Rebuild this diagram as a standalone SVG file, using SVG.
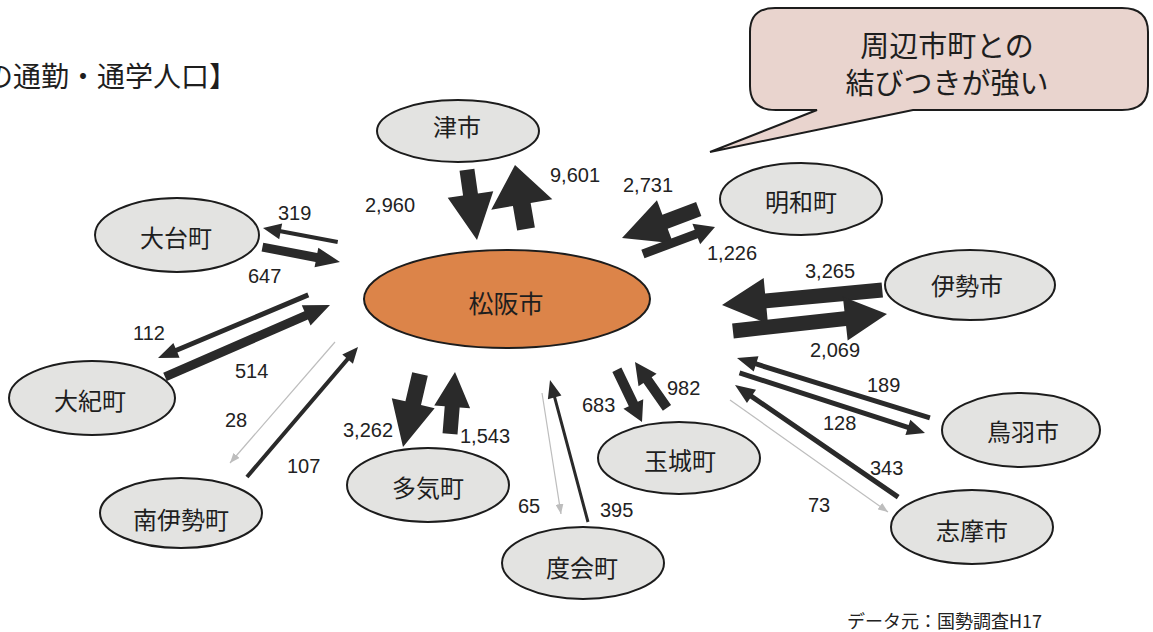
<svg xmlns="http://www.w3.org/2000/svg" width="1153" height="632" viewBox="0 0 1153 632">
<style>
.node ellipse{fill:#e3e3e1;stroke:#1c1c1c;stroke-width:2}
.node text{font-family:"Noto Sans CJK JP","Noto Sans",sans-serif;font-size:24px;fill:#1e1e1e;text-anchor:middle}
.blk{fill:#2a2a2a}
.gry{stroke:#bdbdbd;stroke-width:1.2;fill:none}
.num{font-family:"Liberation Sans",Arial,sans-serif;font-size:20px;fill:#222}
.title{font-family:"Noto Sans CJK JP",sans-serif;font-size:28px;fill:#1e1e1e}
.call{font-family:"Noto Sans CJK JP",sans-serif;font-size:29px;fill:#1e1e1e;text-anchor:middle}
.src{font-family:"Noto Sans CJK JP",sans-serif;font-size:18px;fill:#222}
</style>
<defs>
<marker id="gh" markerUnits="userSpaceOnUse" markerWidth="10" markerHeight="8" refX="10" refY="4" orient="auto">
<path d="M0,0L10,4L0,8Z" fill="#bdbdbd"/>
</marker>
</defs>
<rect width="1153" height="632" fill="#ffffff"/>
<text class="title" x="-15" y="87">の通勤・通学人口】</text>

<g id="callout">
<path d="M775,8 H1122 Q1148,8 1148,32 V86 Q1148,110 1122,110 H913 L710,152 L817,110 H776 Q750,110 750,86 V32 Q750,8 775,8 Z" fill="#e9d4ce" stroke="#1c1c1c" stroke-width="2"/>
<text class="call" x="947" y="57">周辺市町との</text>
<text class="call" x="947" y="94">結びつきが強い</text>
</g>

<g id="connectors">
<path class="blk" transform="translate(477,240) rotate(81.87)" d="M-71,-7.5H-46V-23L0,0L-46,23V7.5H-71Z"/>
<path class="blk" transform="translate(515,165) rotate(-99.75)" d="M-65,-9H-40V-31L0,0L-40,31V9H-65Z"/>
<path class="blk" transform="translate(622,238) rotate(159.36)" d="M-82,-7.5H-46V-23L0,0L-46,23V7.5H-82Z"/>
<path class="blk" transform="translate(715,227) rotate(-20.56)" d="M-77,-4.5H-20V-11L0,0L-20,11V4.5H-77Z"/>
<path class="blk" transform="translate(722,305) rotate(174.64)" d="M-161,-7.5H-44V-23L0,0L-44,23V7.5H-161Z"/>
<path class="blk" transform="translate(887,314) rotate(-6.3)" d="M-155,-7.5H-42V-22L0,0L-42,22V7.5H-155Z"/>
<path class="blk" transform="translate(263,228) rotate(-169.43)" d="M-76,-2H-18V-8L0,0L-18,8V2H-76Z"/>
<path class="blk" transform="translate(340,262) rotate(10.89)" d="M-79,-4.5H-24V-10L0,0L-24,10V4.5H-79Z"/>
<path class="blk" transform="translate(158,358) rotate(157.22)" d="M-163,-2.5H-20V-8L0,0L-20,8V2.5H-163Z"/>
<path class="blk" transform="translate(330,305) rotate(-23.57)" d="M-180,-4.5H-26V-11L0,0L-26,11V4.5H-180Z"/>
<line class="gry" x1="335" y1="342" x2="230" y2="463" marker-end="url(#gh)"/>
<path class="blk" transform="translate(358,347) rotate(-49.5)" d="M-171,-2H-16V-7L0,0L-16,7V2H-171Z"/>
<path class="blk" transform="translate(403,447) rotate(103.11)" d="M-75,-8H-45V-22L0,0L-45,22V8H-75Z"/>
<path class="blk" transform="translate(455,372) rotate(-85.39)" d="M-62,-7.5H-35V-18L0,0L-35,18V7.5H-62Z"/>
<line class="gry" x1="542" y1="393" x2="561" y2="514" stroke="#d6d6d6" marker-end="url(#gh)"/>
<path class="blk" transform="translate(550,380) rotate(-104.98)" d="M-147,-1.5H-18V-7L0,0L-18,7V1.5H-147Z"/>
<path class="blk" transform="translate(642,422) rotate(64.32)" d="M-58,-5H-20V-11L0,0L-20,11V5H-58Z"/>
<path class="blk" transform="translate(635,362) rotate(-124.82)" d="M-56,-5H-22V-11L0,0L-22,11V5H-56Z"/>
<path class="blk" transform="translate(737,358) rotate(-162.73)" d="M-202,-2.5H-20V-8L0,0L-20,8V2.5H-202Z"/>
<path class="blk" transform="translate(925,433) rotate(17.97)" d="M-195,-2.5H-18V-8L0,0L-18,8V2.5H-195Z"/>
<path class="blk" transform="translate(735,385) rotate(-145.51)" d="M-198,-2.5H-20V-8L0,0L-20,8V2.5H-198Z"/>
<line class="gry" x1="730" y1="400" x2="888" y2="512" marker-end="url(#gh)"/>
</g>

<g id="labels">
<text class="num" x="365" y="212">2,960</text>
<text class="num" x="550" y="182">9,601</text>
<text class="num" x="623" y="192">2,731</text>
<text class="num" x="707" y="260">1,226</text>
<text class="num" x="805" y="278">3,265</text>
<text class="num" x="810" y="357">2,069</text>
<text class="num" x="278" y="220">319</text>
<text class="num" x="248" y="283">647</text>
<text class="num" x="133" y="340">112</text>
<text class="num" x="235" y="378">514</text>
<text class="num" x="225" y="427">28</text>
<text class="num" x="287" y="473">107</text>
<text class="num" x="343" y="437">3,262</text>
<text class="num" x="460" y="443">1,543</text>
<text class="num" x="518" y="513">65</text>
<text class="num" x="600" y="517">395</text>
<text class="num" x="582" y="412">683</text>
<text class="num" x="667" y="395">982</text>
<text class="num" x="867" y="392">189</text>
<text class="num" x="823" y="430">128</text>
<text class="num" x="870" y="475">343</text>
<text class="num" x="808" y="512">73</text>
</g>

<g id="n-matsusaka" class="node"><ellipse cx="507" cy="299" rx="143" ry="49" style="fill:#dc8449"/><text x="506" y="313" style="font-size:25px">松阪市</text></g>
<g id="n-tsu" class="node"><ellipse cx="458" cy="131" rx="81" ry="31"/><text x="457" y="136">津市</text></g>
<g id="n-odai" class="node"><ellipse cx="177" cy="235" rx="82" ry="37"/><text x="176" y="247">大台町</text></g>
<g id="n-meiwa" class="node"><ellipse cx="801" cy="199" rx="81" ry="36"/><text x="801" y="211">明和町</text></g>
<g id="n-ise" class="node"><ellipse cx="970" cy="285" rx="85" ry="35"/><text x="967" y="295">伊勢市</text></g>
<g id="n-taiki" class="node"><ellipse cx="92" cy="398" rx="83" ry="37"/><text x="90" y="410">大紀町</text></g>
<g id="n-minamiise" class="node"><ellipse cx="181" cy="513" rx="81" ry="35"/><text x="181" y="529">南伊勢町</text></g>
<g id="n-taki" class="node"><ellipse cx="428" cy="485" rx="81" ry="37"/><text x="428" y="497">多気町</text></g>
<g id="n-watarai" class="node"><ellipse cx="583" cy="563" rx="81" ry="36"/><text x="582" y="577">度会町</text></g>
<g id="n-tamaki" class="node"><ellipse cx="679" cy="458" rx="81" ry="36"/><text x="680" y="470">玉城町</text></g>
<g id="n-toba" class="node"><ellipse cx="1021" cy="430" rx="79" ry="37"/><text x="1023" y="441">鳥羽市</text></g>
<g id="n-shima" class="node"><ellipse cx="972" cy="527" rx="81" ry="37"/><text x="972" y="540">志摩市</text></g>

<text class="src" x="847" y="628">データ元：国勢調査H17</text>
</svg>
